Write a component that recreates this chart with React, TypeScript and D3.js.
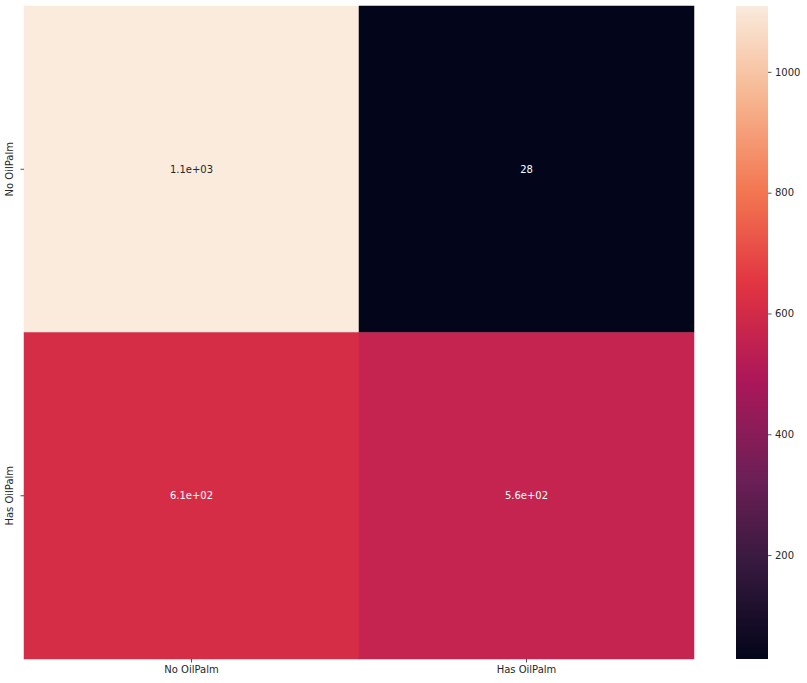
import React, { useEffect, useRef } from 'react';
import * as d3 from 'd3';

const rowLabels = ['No OilPalm', 'Has OilPalm'];
const colLabels = ['No OilPalm', 'Has OilPalm'];
const values = [
  [1109, 28],
  [612, 561],
];
const annotations = [
  ['1.1e+03', '28'],
  ['6.1e+02', '5.6e+02'],
];
const cbarTicks = [200, 400, 600, 800, 1000];

// seaborn "rocket" colormap anchors
const rocketStops = ['#03051a', '#35193e', '#701f57', '#ad1759', '#e13342', '#f37651', '#f6b48f', '#faebdd'];

function App() {
  const svgRef = useRef<SVGSVGElement>(null);

  useEffect(() => {
    const svg = d3.select(svgRef.current);
    svg.selectAll('*').remove();
    const font = 'DejaVu Sans, sans-serif';

    const left = 24, right = 694, top = 6, bottom = 659;
    const vmin = 28, vmax = 1109;

    const rocket = d3.scaleLinear<string>()
      .domain(rocketStops.map((_, i) => i / (rocketStops.length - 1)))
      .range(rocketStops)
      .interpolate(d3.interpolateRgb);
    const color = (v: number) => rocket((v - vmin) / (vmax - vmin));

    const x = d3.scaleBand().domain(colLabels).range([left, right]);
    const y = d3.scaleBand().domain(rowLabels).range([top, bottom]);

    const g = svg.append('g');
    rowLabels.forEach((r, i) => {
      colLabels.forEach((c, j) => {
        const v = values[i][j];
        const fill = color(v);
        g.append('rect')
          .attr('x', x(c)!)
          .attr('y', y(r)!)
          .attr('width', x.bandwidth())
          .attr('height', y.bandwidth())
          .attr('fill', fill)
          .attr('stroke', fill)
          .attr('stroke-width', 0.5);
        const rgb = d3.rgb(fill);
        const lin = (u: number) => {
          const s = u / 255;
          return s <= 0.03928 ? s / 12.92 : Math.pow((s + 0.055) / 1.055, 2.4);
        };
        const lum = 0.2126 * lin(rgb.r) + 0.7152 * lin(rgb.g) + 0.0722 * lin(rgb.b);
        g.append('text')
          .attr('x', x(c)! + x.bandwidth() / 2)
          .attr('y', y(r)! + y.bandwidth() / 2)
          .attr('text-anchor', 'middle')
          .attr('dominant-baseline', 'central')
          .attr('font-family', font)
          .attr('font-size', 10)
          .attr('fill', lum > 0.408 ? '#262626' : '#ffffff')
          .text(annotations[i][j]);
      });
    });

    const xAxis = d3.axisBottom(x).tickSize(3.5).tickPadding(3.5);
    const gx = svg.append('g').attr('transform', `translate(0,${bottom})`).call(xAxis);
    gx.select('.domain').remove();
    gx.selectAll('text').attr('font-family', font).attr('font-size', 10).attr('fill', '#262626');
    gx.selectAll('line').attr('stroke', '#262626').attr('stroke-width', 0.8);

    const yAxis = d3.axisLeft(y).tickSize(3.5).tickPadding(3.5);
    const gy = svg.append('g').attr('transform', `translate(${left},0)`).call(yAxis);
    gy.select('.domain').remove();
    gy.selectAll('line').attr('stroke', '#262626').attr('stroke-width', 0.8);
    gy.selectAll('text')
      .attr('font-family', font)
      .attr('font-size', 10)
      .attr('fill', '#262626')
      .attr('text-anchor', 'middle')
      .attr('x', null)
      .attr('dy', null)
      .attr('transform', 'translate(-11,0) rotate(-90)');

    // colorbar
    const cbLeft = 736, cbRight = 768;
    const cy = d3.scaleLinear().domain([vmin, vmax]).range([bottom, top]);
    const defs = svg.append('defs');
    const grad = defs.append('linearGradient')
      .attr('id', 'rocket-grad')
      .attr('x1', 0).attr('y1', 1).attr('x2', 0).attr('y2', 0);
    d3.range(0, 1.0001, 0.02).forEach(t => {
      grad.append('stop').attr('offset', t).attr('stop-color', rocket(t));
    });
    svg.append('rect')
      .attr('x', cbLeft)
      .attr('y', top)
      .attr('width', cbRight - cbLeft)
      .attr('height', bottom - top)
      .attr('fill', 'url(#rocket-grad)');

    const cAxis = d3.axisRight(cy)
      .tickValues(cbarTicks)
      .tickFormat(d3.format('d'))
      .tickSize(3.5)
      .tickPadding(3.5);
    const gc = svg.append('g').attr('transform', `translate(${cbRight},0)`).call(cAxis);
    gc.select('.domain').remove();
    gc.selectAll('line').attr('stroke', '#262626').attr('stroke-width', 0.8);
    gc.selectAll('text').attr('font-family', font).attr('font-size', 10).attr('fill', '#262626');
  }, []);

  return (
    <svg
      ref={svgRef}
      width={807}
      height={683}
      style={{ position: 'absolute', left: 0, top: 0, background: '#ffffff' }}
    />
  );
}

export default App;
